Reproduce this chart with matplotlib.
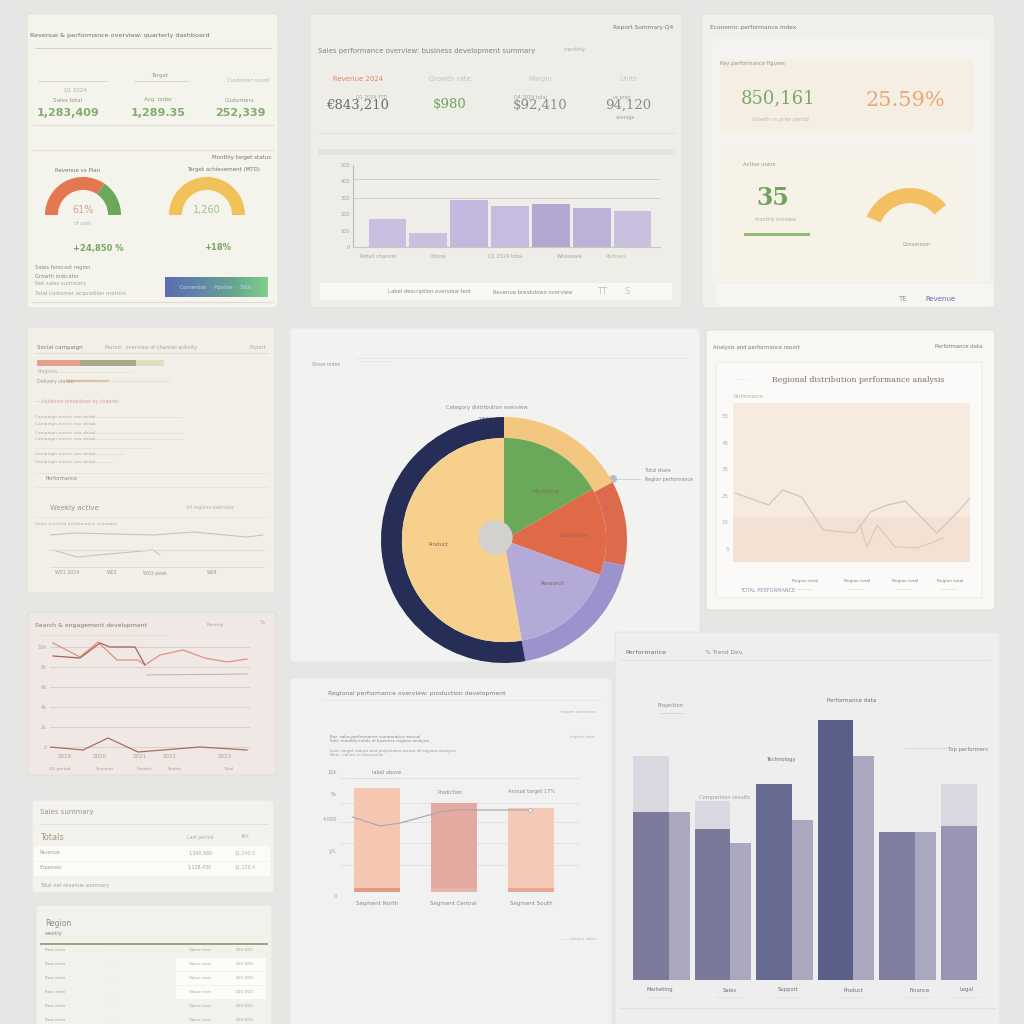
import matplotlib
matplotlib.use('Agg')
import matplotlib.pyplot as plt
import numpy as np
from matplotlib.patches import FancyBboxPatch, Circle
from matplotlib.colors import LinearSegmentedColormap

# ---------------- DATA ----------------
# top-left KPI card
tl_kpi_labels = ['Sales total', 'Avg. order', 'Customers']
tl_kpi_values = ['1,283,409', '1,289.35', '252,339']
gauge1_shares = [69, 31]          # red part, green part of the half dial
gauge2_shares = [100]             # full yellow dial
gauge_texts = ['61%', '1,260']
gauge_notes = ['+24,850 %', '+18%']

# top-middle KPI card + bar chart
tm_kpi_labels = ['Revenue 2024', 'Growth rate', 'Margin', 'Units']
tm_kpi_values = ['€843,210', '$980', '$92,410', '94,120']
tm_bar_values = [173, 86, 284, 253, 265, 235, 222]
tm_ref_lines = [413, 296]
tm_yticks = [0, 100, 200, 300, 400, 500]
tm_xlabels = ['Retail channel', 'Online', 'Q1 2024 total', 'Wholesale', 'Partners']

# top-right KPI card
tr_values = ['850,161', '25.59%', '35']
tr_gauge_share = [100]

# centre pie
pie_inner_labels = ['Marketing', 'Operations', 'Research', 'Product']
pie_inner_values = [60, 50, 60, 190]
pie_outer_values = [62, 40, 68, 190]

# middle-right line chart
mr_xa = [1, 15, 21, 29, 38, 51.5, 58, 65, 72.6, 86, 94.5, 100]
mr_ya = [26, 21.5, 27.2, 24.5, 12.1, 10.9, 18.9, 21.5, 23, 10.9, 18.5, 24.2]
mr_xb = [53.6, 56.5, 60.8, 68.4, 77.6, 84.4, 88.6]
mr_yb = [14, 5.7, 14, 5.7, 5.3, 7.5, 9.1]
mr_yticks = [5, 15, 25, 35, 45, 55]

# left line chart
ll_x1 = [3, 30, 48, 67, 88, 95, 110, 133, 155, 177, 197]
ll_y1 = [122, 108, 123, 105, 105, 100, 110, 115, 107, 103, 106]
ll_x2 = [3, 30, 50, 60, 85, 95]
ll_y2 = [109, 107, 122, 118, 118, 100]
ll_x3 = [0, 33, 58, 88, 150, 197]
ll_y3 = [18, 15, 27, 13, 18, 15]
ll_x4 = [97, 197]
ll_y4 = [90, 91]
ll_yticks = [18, 38, 58, 78, 98, 118]
ll_ylabels = ['0', '2k', '4k', '6k', '8k', '10k']

# middle-left mini chart + progress bars
ml_progress = [43, 55, 28]
ml_x1 = [0, 25, 103, 143, 197, 213]
ml_y1 = [35, 37, 35, 38, 33, 35]
ml_x2 = [3, 27, 103, 110]
ml_y2 = [20, 13, 20, 15]

# bottom-middle bar chart
bm_categories = ['Segment North', 'Segment Central', 'Segment South']
bm_values = [104, 89, 84]
bm_line_x = [-0.32, 0.04, 0.30, 0.82, 1.01, 1.99]
bm_line_y = [75, 66, 69, 80, 82, 82]

# bottom-right grouped bar chart
br_labels = ['Marketing', 'Sales', 'Support', 'Product', 'Finance', 'Legal']
br_main = [60, 54, 70, 93, 53, 55]
br_side = [60, 49, 57, 80, 53, 0]
br_ghost = [80, 64, 0, 0, 0, 70]

# ---------------- FIGURE ----------------
W = 1024
fig = plt.figure(figsize=(10.24, 10.24), dpi=100, facecolor='#e6e6e4')
bg = fig.add_axes([0, 0, 1, 1])
bg.axis('off')


def panel(x0, y0, x1, y1, fc, ec='none', r=4, z=1, lw=0.6):
    bg.add_patch(FancyBboxPatch((x0, y0), x1 - x0, y1 - y0,
                                boxstyle=f"round,pad=0,rounding_size={r}",
                                fc=fc, ec=ec, lw=lw, zorder=z))


def hline(x0, x1, y, color='#d9d7d1', lw=0.8, z=2):
    bg.plot([x0, x1], [y, y], color=color, lw=lw, zorder=z, solid_capstyle='butt')


def txt(x, y, s, size=4.5, color='#8c8c8a', ha='left', weight='normal', family='DejaVu Sans', z=6):
    bg.text(x, y, s, fontsize=size, color=color, ha=ha, va='center',
            weight=weight, zorder=z, family=family)


def add_ax(x0, y0, x1, y1):
    return fig.add_axes([x0 / W, 1 - y1 / W, (x1 - x0) / W, (y1 - y0) / W])


def gauge(ax, shares, colors, width, start=180, span=180):
    tot = sum(shares)
    vals = [s / tot * span for s in shares] + [360 - span]
    ax.pie(vals, colors=list(colors) + ['none'], startangle=start, counterclock=False,
           radius=1, wedgeprops=dict(width=width, edgecolor='none'))
    ax.set_xlim(-1, 1)
    ax.set_ylim(-1, 1)
    ax.axis('off')


# ---------------- PANELS ----------------
panel(27, 14, 278, 308, '#f4f3ec', ec='#e2e0d8')
panel(310, 14, 682, 308, '#efede8', ec='#e2e0da')
panel(702, 14, 995, 308, '#f1f0ec', ec='#e2e1dc')
panel(27, 327, 275, 593, '#f2efe9', ec='#e0ddd6')
panel(290, 328, 700, 662, '#f2f2f1', ec='#e4e4e2')
panel(706, 330, 995, 610, '#f8f7f4', ec='#dcdad6')
panel(28, 612, 276, 775, '#efe8e4', ec='#e2dbd6')
panel(32, 800, 274, 893, '#f3f2ec', ec='#e2e1da')
panel(36, 905, 272, 1030, '#f2f1ec', ec='#e2e1da')
panel(290, 678, 612, 1030, '#f1f1f1', ec='#e4e4e4')
panel(615, 632, 1000, 1030, '#eeeeee', ec='#e2e2e2', z=3)

# ---------------- TOP-LEFT CARD ----------------
txt(30, 35, 'Revenue & performance overview: quarterly dashboard', 4.6, '#6e6e6a')
hline(35, 272, 48, '#d4d2ca')
hline(37, 107, 81, '#d9d7cf')
hline(133, 188, 81, '#d9d7cf')
txt(160, 75, 'Target', 4, '#9a9a96', ha='center')
txt(248, 81, 'Customer count', 3.8, '#b8b8b2', ha='center')
txt(75, 90, 'Q1 2024', 3.8, '#a8b89a', ha='center')
kx = [68, 158, 240]
for i in range(3):
    txt(kx[i], 100, tl_kpi_labels[i], 4, '#8aa27a', ha='center')
    txt(kx[i], 113, tl_kpi_values[i], 8, '#82ad6c', ha='center', weight='bold')
hline(32, 274, 125, '#e1dfd7')
hline(32, 274, 150, '#e1dfd7')
txt(242, 157, 'Monthly target status', 4, '#77776f', ha='center')
txt(78, 171, 'Revenue vs Plan', 4, '#77776f', ha='center')
txt(223, 170, 'Target achievement (MTD)', 4, '#77776f', ha='center')

ag1 = add_ax(45, 177, 121, 253)
gauge(ag1, gauge1_shares, ['#e47752', '#6aa95a'], 0.34)
ag2 = add_ax(169, 177, 245, 253)
gauge(ag2, gauge2_shares, ['#f2c25a'], 0.34)
txt(83, 210, gauge_texts[0], 7, '#d9a48c', ha='center')
txt(207, 210, gauge_texts[1], 7, '#9cc08a', ha='center')
txt(83, 223, 'of plan', 3.6, '#b8b8b2', ha='center')
txt(98, 248, gauge_notes[0], 6, '#77a862', ha='center', weight='bold')
txt(218, 248, gauge_notes[1], 6, '#77a862', ha='center', weight='bold')
txt(35, 267, 'Sales forecast region', 3.8, '#8c8c86')
txt(35, 276, 'Growth indicator', 3.8, '#8c8c86')
txt(35, 284, 'Net sales summary', 3.8, '#9cb08c')
txt(35, 293, 'Total customer acquisition metrics', 3.8, '#9cb08c')
grad = LinearSegmentedColormap.from_list('g', ['#5b6cae', '#6187a8', '#66a68e', '#7fcf8c'])
bg.imshow(np.linspace(0, 1, 100).reshape(1, -1), cmap=grad, aspect='auto',
          extent=(165, 268, 297, 277), zorder=4)
txt(216, 287, 'Conversion  ·  Pipeline  ·  Total', 3.4, '#c8d4e8', ha='center')
hline(32, 274, 302, '#dcdad2')

# ---------------- TOP-MIDDLE CARD ----------------
txt(643, 28, 'Report Summary Q4', 4.2, '#77776f', ha='center')
txt(318, 51, 'Sales performance overview: business development summary', 5, '#86847e')
txt(563, 50, 'monthly', 3.8, '#b0aea8')
lab_col = ['#e8806a', '#c4c2bc', '#c8c6c0', '#c8c6c0']
val_col = ['#6d6d6d', '#6fa45c', '#8a8a86', '#8a8a86']
kxm = [358, 450, 540, 628]
for i in range(4):
    txt(kxm[i], 79, tm_kpi_labels[i], 5, lab_col[i], ha='center')
    txt(kxm[i], 105, tm_kpi_values[i], 9.5, val_col[i], ha='center', family='DejaVu Serif')
txt(372, 97, 'Q1 2024 YTD', 3.4, '#a0a09a', ha='center')
txt(530, 97, 'Q4 2024 total', 3.4, '#a0a09a', ha='center')
txt(622, 97, 'vs prior', 3.4, '#a0a09a', ha='center')
txt(625, 118, 'average', 3.4, '#a0a09a', ha='center')
hline(318, 675, 133, '#e2e0da')
bg.add_patch(FancyBboxPatch((318, 149), 358, 6, boxstyle="round,pad=0,rounding_size=1",
                            fc='#e6e4df', ec='none', zorder=2))

atm = add_ax(353, 165, 660, 247)
atm.bar(np.arange(len(tm_bar_values)), tm_bar_values, width=0.92,
        color=['#c9bfe0', '#c9bfe0', '#c3b8de', '#c6bcdf', '#b4a8d3', '#bcb1d9', '#c9c0e0'],
        edgecolor='none', zorder=2)
for v in tm_ref_lines:
    atm.axhline(v, color='#cfcdc7', lw=0.7, zorder=1)
atm.set_xlim(-0.84, 6.67)
atm.set_ylim(0, 500)
atm.set_yticks(tm_yticks)
atm.set_yticklabels([str(t) for t in tm_yticks], fontsize=3.6, color='#a4a29c')
atm.set_xticks([])
atm.patch.set_alpha(0)
for s in ['top', 'right']:
    atm.spines[s].set_visible(False)
atm.spines['left'].set_color('#bdbbb5')
atm.spines['bottom'].set_color('#c8c6c0')
atm.tick_params(length=0, pad=2)
for x, s, c in zip([360, 430, 488, 557, 605], tm_xlabels,
                   ['#a4a29c', '#a4a29c', '#a4a29c', '#a4a29c', '#9cc08a']):
    txt(x, 256, s, 3.6, c)
panel(320, 283, 672, 300, '#f8f8f6', r=2, z=2)
txt(430, 292, 'Label description overview text', 3.8, '#8a8a86', ha='center')
txt(533, 292, 'Revenue breakdown overview', 3.8, '#8a8a86', ha='center')
txt(602, 292, 'TT', 6, '#c4c2bc', ha='center')
txt(627, 292, 'S', 6, '#c4c2bc', ha='center')

# ---------------- TOP-RIGHT CARD ----------------
txt(710, 27, 'Economic performance index', 4.2, '#77776f')
panel(712, 38, 990, 282, '#f4f3ef', r=3, z=1.5)
panel(720, 60, 973, 132, '#f5eee2', r=4, z=2)
txt(720, 63, 'Key performance figures', 3.8, '#9a968e')
txt(778, 98, tr_values[0], 13, '#7aa96a', ha='center', family='DejaVu Serif')
txt(780, 120, 'Growth vs prior period', 3.6, '#bcb8b0', ha='center')
txt(905, 101, tr_values[1], 15, '#eaa878', ha='center', family='DejaVu Serif')
panel(720, 147, 973, 280, '#f6f2e8', r=4, z=2)
txt(743, 165, 'Active users', 3.8, '#9a968e')
txt(773, 198, tr_values[2], 17, '#6fa45c', ha='center', family='DejaVu Serif', weight='bold')
txt(776, 220, 'monthly increase', 3.4, '#b0aca4', ha='center')
bg.plot([745, 808], [234, 234], color='#94b878', lw=2.2, zorder=5)
atr = add_ax(863, 188, 957, 282)
gauge(atr, tr_gauge_share, ['#f2c060'], 0.32, start=157, span=117)
txt(917, 245, 'Conversion', 3.6, '#9a968e', ha='center')
panel(716, 284, 993, 306, '#f6f5f2', r=2, z=2)
txt(902, 299, 'TE', 5, '#9a98b0', ha='center')
txt(940, 299, 'Revenue', 5, '#6a6aa8', ha='center')

# ---------------- MIDDLE-LEFT CARD ----------------
txt(37, 347, 'Social campaign', 4, '#7e7c76')
txt(105, 347, 'Period:  overview of channel activity', 3.6, '#a8a6a0')
txt(266, 347, 'Export', 3.6, '#a8a6a0', ha='right')
hline(35, 268, 353, '#dddbd4')
apb = add_ax(37, 360, 164, 366)
left = 0
for v, c in zip(ml_progress, ['#e6a090', '#a8aa8c', '#dcdfbe']):
    apb.barh(0, v, left=left, height=1, color=c, edgecolor='none')
    left += v
apb.set_xlim(0, sum(ml_progress))
apb.set_ylim(-0.5, 0.5)
apb.axis('off')
txt(37, 372, 'Progress', 3.4, '#b0aea8')
hline(55, 132, 372, '#e4e2dc', lw=0.6)
txt(37, 381, 'Delivery status', 3.4, '#9c9a94')
bg.plot([68, 90], [381, 381], color='#e8bca0', lw=1.6, zorder=4)
bg.plot([90, 108], [381, 381], color='#d8c8a0', lw=1.6, zorder=4)
hline(110, 170, 381, '#e0e4ea', lw=1.0)
txt(35, 402, '— Audience breakdown by channel', 3.4, '#d8a090')
for y, w in zip([417, 424, 433, 439, 454, 462], [148, 60, 148, 148, 88, 78]):
    txt(35, y, 'Campaign metric row detail', 3.2, '#b0aea8')
    hline(90, 35 + w, y, '#e2e0da', lw=0.6)
hline(35, 150, 448, '#e4e2dc', lw=0.6)
hline(35, 268, 473, '#e4e2dc', lw=0.6)
txt(45, 479, 'Performance', 3.6, '#8c8a84')
hline(35, 268, 487, '#e6e4de', lw=0.6)
txt(50, 508, 'Weekly active', 5, '#9a9892')
txt(210, 508, 'All regions overview', 3.4, '#b4b2ac', ha='center')
hline(35, 268, 517, '#e4e2dc', lw=0.6)
txt(35, 524, 'Users reached performance summary', 3.2, '#b0aea8')
aml = add_ax(50, 520, 265, 570)
aml.plot(ml_x1, ml_y1, color='#c8c4bc', lw=0.8)
aml.plot(ml_x2, ml_y2, color='#c8c4bc', lw=0.8)
aml.axhline(20, color='#dcdad4', lw=0.6)
aml.axhline(3, color='#dcdad4', lw=0.6)
aml.set_xlim(0, 215)
aml.set_ylim(0, 50)
aml.axis('off')
for x, s in zip([55, 107, 143, 207], ['W01 2024', 'W02', 'W03 peak', 'W04']):
    txt(x, 573, s, 3.4, '#9c9a94')

# ---------------- CENTRE PIE ----------------
hline(355, 690, 358, '#e4e4e2', lw=0.6)
txt(312, 365, 'Share index', 3.4, '#9a9a98')
txt(357, 361, '—————————', 3, '#c0c4d0')
txt(487, 407, 'Category distribution overview', 3.8, '#8a8a88', ha='center')
txt(485, 420, '15%', 5, '#8a8a88', ha='center')
apie = add_ax(381, 417, 627, 663)
apie.pie(pie_outer_values, colors=['#f4c780', '#dc6a4c', '#9c92cc', '#262d57'],
         startangle=90, counterclock=False, radius=1,
         wedgeprops=dict(width=0.17, edgecolor='none'))
apie.pie(pie_inner_values, colors=['#6aa95a', '#e06a48', '#b3aad8', '#f6d08c'],
         startangle=90, counterclock=False, radius=0.83,
         labels=pie_inner_labels, labeldistance=0.55,
         textprops=dict(fontsize=3.8, color='#8a6a50'),
         wedgeprops=dict(edgecolor='none'))
apie.add_patch(Circle((-0.07, 0.02), 0.14, fc='#d2d1ce', ec='none', zorder=5))
apie.set_xlim(-1, 1)
apie.set_ylim(-1, 1)
apie.axis('off')
bg.add_patch(Circle((613, 479), 4, fc='#b8bccc', ec='none', zorder=5))
hline(602, 640, 479, '#c8cad4', lw=0.6)
txt(645, 470, 'Total share', 3.4, '#8a8a88')
txt(645, 480, 'Region performance', 3.4, '#8a8a88')

# ---------------- MIDDLE-RIGHT CARD ----------------
txt(713, 347, 'Analysis and performance report', 3.8, '#7c7a76')
txt(982, 347, 'Performance data', 3.8, '#7c7a76', ha='right')
panel(716, 362, 982, 598, '#fbfaf8', ec='#e8e6e2', r=3, z=2)
txt(735, 380, '———', 4, '#e4e2de')
txt(858, 380, 'Regional distribution performance analysis', 5.6, '#77716b', ha='center', family='DejaVu Serif')
txt(733, 396, 'Performance', 3.4, '#b4b0aa')
amr = add_ax(733, 403, 970, 562)
amr.set_facecolor('#f7ebe0')
amr.axhspan(0, 17, color='#f3e2d4', zorder=0)
amr.plot(mr_xa, mr_ya, color='#d4c4bc', lw=0.9, zorder=2)
amr.plot(mr_xb, mr_yb, color='#dcc8bc', lw=0.9, zorder=2)
amr.set_xlim(0, 100)
amr.set_ylim(0, 60)
amr.set_yticks(mr_yticks)
amr.set_yticklabels([str(t) for t in mr_yticks], fontsize=4, color='#bcaea4')
amr.set_xticks([])
for s in amr.spines.values():
    s.set_visible(False)
amr.tick_params(length=0, pad=3)
txt(740, 590, 'TOTAL PERFORMANCE', 3.6, '#9a90b0')
for x in [805, 857, 905, 950]:
    txt(x, 581, 'Region total', 3.2, '#8a8680', ha='center')
    txt(x, 589, '————', 3.2, '#a8a4a0', ha='center')

# ---------------- LEFT LINE CARD ----------------
txt(35, 625, 'Search & engagement development', 4.4, '#8a7872')
txt(215, 625, 'Monthly', 3.2, '#aaa29e', ha='center')
txt(262, 623, '%', 4, '#aaa29e', ha='center')
hline(40, 168, 635, '#e6dcd8', lw=0.6)
all_ = add_ax(50, 640, 250, 765)
all_.plot(ll_x1, ll_y1, color='#e39080', lw=0.9)
all_.plot(ll_x2, ll_y2, color='#a26458', lw=0.9)
all_.plot(ll_x3, ll_y3, color='#a86e62', lw=0.9)
all_.plot(ll_x4, ll_y4, color='#b8b0ac', lw=0.7)
all_.set_xlim(0, 200)
all_.set_ylim(0, 125)
all_.set_yticks(ll_yticks)
all_.set_yticklabels(ll_ylabels, fontsize=3.6, color='#b0a4a0')
all_.grid(axis='y', color='#d8cbc6', lw=0.6)
all_.set_xticks([])
all_.patch.set_alpha(0)
for s in all_.spines.values():
    s.set_visible(False)
all_.tick_params(length=0, pad=2)
for x, s in zip([65, 100, 140, 170, 225], ['2019', '2020', '2021', '2022', '2023']):
    txt(x, 757, s, 4, '#b49c96', ha='center')
for x, s in zip([60, 105, 145, 175, 228], ['Q1 period', 'Summer', 'Growth', 'Stable', 'Total']):
    txt(x, 769, s, 3.2, '#aaa09c', ha='center')

# ---------------- LEFT TABLE CARDS ----------------
txt(40, 812, 'Sales summary', 5, '#9a9890')
hline(38, 268, 824, '#e0ded8', lw=0.6)
txt(40, 837, 'Totals', 6, '#a89a80')
txt(200, 837, 'Last period', 3.4, '#b0aea8', ha='center')
txt(245, 837, 'YoY', 3.8, '#b0aea8', ha='center')
panel(34, 846, 270, 876, '#fbfbf9', r=1, z=2)
hline(36, 268, 861, '#eceae6', lw=0.5)
txt(40, 853, 'Revenue', 3.4, '#a4a29c')
txt(40, 867, 'Expenses', 3.4, '#a4a29c')
txt(200, 853, '1,240,560', 3.4, '#a4a29c', ha='center')
txt(200, 867, '1,128,430', 3.4, '#a4a29c', ha='center')
txt(245, 853, '$1,240.5', 3.4, '#b4b2ac', ha='center')
txt(245, 867, '$1,128.4', 3.4, '#b4b2ac', ha='center')
txt(40, 886, 'Total net revenue summary', 3.6, '#a4a29c')

txt(45, 923, 'Region', 5.5, '#8c8a84')
txt(45, 933, 'weekly', 3.6, '#8c8a84')
hline(40, 268, 944, '#7fa070', lw=1.2)
rows_y = [950, 964, 978, 992, 1006, 1020]
for i, y in enumerate(rows_y):
    if i in (1, 2, 3):
        panel(176, y - 6, 266, y + 7, '#fcfcfb', r=0, z=2)
    txt(45, y, 'Row item', 3.2, '#a8a6a0')
    txt(110, y, '—', 3.2, '#c8c6c0')
    txt(200, y, 'Value text', 3.2, '#a8a6a0', ha='center')
    txt(245, y, '000,000', 3.2, '#a8a6a0', ha='center')

# ---------------- BOTTOM-MIDDLE CARD ----------------
txt(328, 693, 'Regional performance overview: production development', 4.4, '#7e7e7c')
hline(322, 600, 700, '#e6e6e6', lw=0.6)
txt(578, 712, 'report overview', 3.2, '#b4b4b2', ha='center')
txt(330, 737, 'Bar: sales performance comparative annual', 3, '#8a8a88')
txt(330, 741, 'Sub: monthly totals of business regions analysis', 3, '#8a8a88')
txt(330, 751, 'Line: target values and projections across all regions analysis', 3, '#9a9a98')
txt(330, 755, 'Note: values in thousands', 3, '#a4a4a2')
txt(582, 737, 'legend note', 3, '#b4b4b2', ha='center')
abm = add_ax(340, 770, 580, 892)
bar_cols = ['#f5c7b1', '#e4aaa2', '#f4cab6']
abm.bar(np.arange(len(bm_values)), bm_values, width=0.6, color=bar_cols, edgecolor='none', zorder=2)
abm.bar(np.arange(len(bm_values)), [4, 4, 4], width=0.6, color=['#e39a84', '#e8b4a8', '#e6a894'],
        edgecolor='none', zorder=3)
abm.plot(bm_line_x, bm_line_y, color='#a8a6a6', lw=0.8, zorder=4)
abm.plot(bm_line_x[-1], bm_line_y[-1], 'o', ms=3, mfc='#f2f2f2', mec='#b0aeae', mew=0.6, zorder=5)
for yv in [114, 89, 70, 49, 27, 0]:
    abm.axhline(yv, color='#dedede', lw=0.6, zorder=1)
abm.set_xlim(-0.48, 2.64)
abm.set_ylim(0, 122)
abm.axis('off')
for y, s in zip([772, 795, 819, 852, 896], ['10k', '5k', '4,000', 'y%', '0']):
    txt(337, y, s, 3.6, '#9a9a98', ha='right')
txt(372, 772, 'label above', 3.6, '#8a8a88')
hline(352, 395, 778, '#c8c8c6', lw=0.6)
txt(450, 792, 'Prediction', 3.6, '#8a8a88', ha='center')
txt(532, 792, 'Annual target 17%', 3.6, '#8a8a88', ha='center')
txt(457, 805, 'Target line', 3.6, '#8a8a88', ha='center')
for x, s in zip([377, 453, 531], bm_categories):
    txt(x, 903, s, 4, '#8a8a88', ha='center')
txt(377, 837, 'Segment', 3.6, '#b8948a', ha='center')
txt(449, 833, 'Result Q4', 3.6, '#a87a72', ha='center')
txt(535, 860, 'Subtotal', 3.6, '#b8948a', ha='center')
txt(578, 939, '—— source data', 3.2, '#b4b4b2', ha='center')

# ---------------- BOTTOM-RIGHT CARD ----------------
txt(625, 652, 'Performance', 4.6, '#6e6e78', z=7)
txt(705, 652, '% Trend Dev.', 4.2, '#8e8e94', z=7)
bg.plot([620, 990], [660, 660], color='#e2e2e2', lw=0.6, zorder=4)
abr = add_ax(625, 700, 992, 980)
gx = np.arange(len(br_main))
abr.bar(gx - 0.17, br_ghost, width=0.58, color='#d9d8e1', edgecolor='none', zorder=1)
abr.bar(gx + 0.28, br_side, width=0.36, color='#aaa8bf', edgecolor='none', zorder=2)
abr.bar(gx - 0.17, br_main, width=0.58,
        color=['#7d7b9c', '#7a799a', '#676b91', '#5a5f89', '#7f7ea0', '#9896b2'],
        edgecolor='none', zorder=3)
abr.set_xlim(-0.59, 5.37)
abr.set_ylim(0, 100)
abr.axis('off')
abr.set_zorder(5)
txt(657, 706, 'Projection', 3.8, '#8a8a96', z=7)
bg.plot([660, 682], [713, 713], color='#d0d0d6', lw=0.6, zorder=6)
txt(852, 700, 'Performance data', 4, '#6e6e78', ha='center', z=7)
txt(782, 760, 'Technology', 3.8, '#6e6e78', ha='center', z=7)
txt(725, 798, 'Comparison results', 3.8, '#9a9aa4', ha='center', z=7)
bg.plot([905, 947], [748, 748], color='#d0d0d6', lw=0.6, zorder=6)
txt(968, 749, 'Top performers', 3.8, '#7e7e88', ha='center', z=7)
for x, s in zip([660, 730, 788, 853, 920, 967], br_labels):
    txt(x, 990, s, 3.8, '#6e6e78', ha='center', z=7)
    txt(x, 997, '————————', 2.6, '#c4c4ca', ha='center', z=7)
bg.plot([620, 995], [1008, 1008], color='#dedede', lw=0.6, zorder=4)

bg.set_xlim(0, W)
bg.set_ylim(W, 0)
fig.savefig('out.png', dpi=100, facecolor=fig.get_facecolor())
